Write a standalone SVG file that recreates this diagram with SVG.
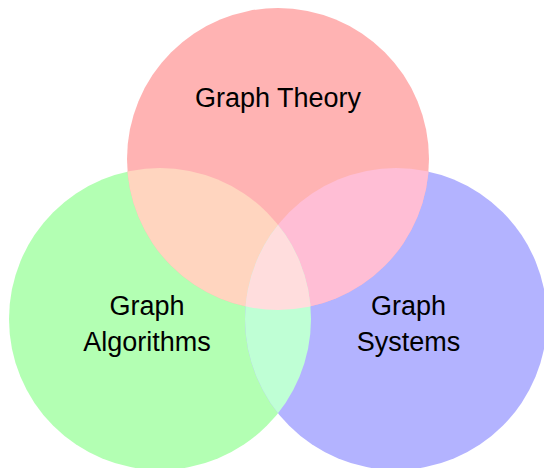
<svg xmlns="http://www.w3.org/2000/svg" width="544" height="468" viewBox="0 0 544 468">
  <style>
    .lbl { font-family: "Liberation Sans", Arial, sans-serif; font-size: 27px; fill: #000; text-anchor: middle; }
  </style>
  <defs>
    <clipPath id="cRed"><circle cx="278" cy="159" r="151"/></clipPath>
    <clipPath id="cGreen"><circle cx="160" cy="319" r="151"/></clipPath>
    <clipPath id="cBlue"><circle cx="396" cy="319" r="151"/></clipPath>
  </defs>
  <rect width="544" height="468" fill="#ffffff"/>
  <g id="algorithms">
    <circle cx="160" cy="319" r="151" fill="#b3ffb3"/>
  </g>
  <g id="systems">
    <circle cx="396" cy="319" r="151" fill="#b3b3ff"/>
  </g>
  <g id="theory">
    <circle cx="278" cy="159" r="151" fill="#ffb3b3"/>
  </g>
  <g id="overlaps">
    <g clip-path="url(#cRed)">
      <circle cx="160" cy="319" r="151" fill="#ffd5bf"/>
      <circle cx="396" cy="319" r="151" fill="#ffbed5"/>
    </g>
    <g clip-path="url(#cGreen)">
      <circle cx="396" cy="319" r="151" fill="#bfffd5"/>
      <g clip-path="url(#cRed)">
        <circle cx="396" cy="319" r="151" fill="#ffdddd"/>
      </g>
    </g>
  </g>
  <g id="labels">
    <text class="lbl" x="278" y="107">Graph Theory</text>
    <text class="lbl" x="147" y="315">Graph</text>
    <text class="lbl" x="147" y="351">Algorithms</text>
    <text class="lbl" x="408.5" y="315">Graph</text>
    <text class="lbl" x="408.5" y="351">Systems</text>
  </g>
</svg>
